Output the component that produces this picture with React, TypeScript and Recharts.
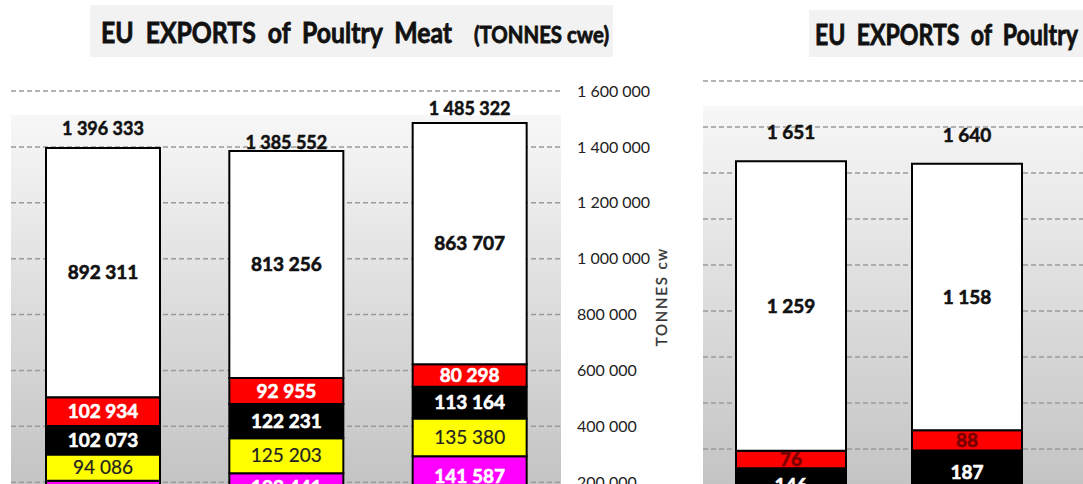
import { BarChart, Bar, XAxis, YAxis, CartesianGrid, LabelList, Label } from "recharts"

// left chart: EU exports of poultry meat, tonnes cwe
const categories = ["I", "II", "III"]
const whiteVals = [892311, 813256, 863707]
const redVals = [102934, 92955, 80298]
const blackVals = [102073, 122231, 113164]
const yellowVals = [94086, 125203, 135380]
const magentaVals = [101000, 103441, 141587]
const restVals = [103929, 128466, 151186] // below the crop
const totals = [1396333, 1385552, 1485322]
const yTicks = [0, 200000, 400000, 600000, 800000, 1000000, 1200000, 1400000, 1600000]

// right chart (cropped)
const categories2 = ["I", "II", "III"]
const white2 = [1259, 1158]
const red2 = [76, 88]
const black2 = [146, 187]
const rest2 = [170, 207]
const totals2 = [1651, 1640]
const yTicks2 = [0, 200, 400, 600, 800, 1000, 1200, 1400, 1600, 1800, 2000]

const FONT = "Lato, 'Open Sans', sans-serif"

const data = categories.map((c, i) => ({
  name: c,
  white: whiteVals[i],
  red: redVals[i],
  black: blackVals[i],
  yellow: yellowVals[i],
  magenta: magentaVals[i],
  rest: restVals[i],
  total: totals[i],
}))

const data2 = categories2.map((c, i) => ({
  name: c,
  white: white2[i],
  red: red2[i],
  black: black2[i],
  rest: rest2[i],
  total: totals2[i],
}))

const fmt = (v: any) => (v == null ? "" : String(v).replace(/\B(?=(\d{3})+(?!\d))/g, " "))

// distance from bar top to label baseline
const lift1 = [13, 2, 8]
const lift2 = [22, 22, 22]

const totalLabel = (lift: number[], size: number) => (p: any) => {
  if (p.value == null) return null
  const vb = p.viewBox || p
  return (
    <text
      x={vb.x + vb.width / 2}
      y={vb.y - lift[p.index ?? 0]}
      textAnchor="middle"
      fontFamily={FONT}
      fontWeight="bold"
      fontSize={size}
      fill="#111"
      stroke="#111"
      strokeWidth={0.5}
    >
      {fmt(p.value)}
    </text>
  )
}

const seg = (color: string, weight: string = "bold") => ({
  position: "center" as const,
  fill: color,
  stroke: color,
  strokeWidth: weight === "bold" ? 0.6 : 0.2,
  fontSize: 19,
  fontWeight: weight,
  fontFamily: FONT,
  formatter: fmt,
})

const axisTitle = (p: any) => {
  const vb = p.viewBox
  const cx = vb.x + 102
  const cy = vb.y + vb.height * 0.46
  return (
    <text
      transform={`translate(${cx}, ${cy}) rotate(-90)`}
      textAnchor="middle"
      dominantBaseline="middle"
      fontFamily={FONT}
      fontSize={15}
      fill="#333"
      stroke="#333"
      strokeWidth={0.3}
      letterSpacing={1.8}
    >
      TONNES cw
    </text>
  )
}

const bgStops = (
  <>
    <stop offset="0" stopColor="#ffffff" />
    <stop offset="0.053" stopColor="#ffffff" />
    <stop offset="0.054" stopColor="#f7f7f7" />
    <stop offset="1" stopColor="#bcbcbc" />
  </>
)

const titleText = { fontFamily: FONT, fontWeight: "bold", fill: "#111", stroke: "#111", strokeWidth: 0.8, lengthAdjust: "spacingAndGlyphs", style: { whiteSpace: "pre" as const } }

export default function App() {
  return (
    <div
      style={{
        position: "fixed",
        left: 0,
        top: 0,
        width: 1083,
        height: 484,
        overflow: "hidden",
        background: "#fff",
      }}
    >
      <svg width={1083} height={60} style={{ position: "absolute", left: 0, top: 0 }}>
        <rect x={90} y={5} width={523} height={52} fill="#f2f2f2" />
        <text x={101} y={43} fontSize={29} textLength={351} {...titleText}>
          {"EU  EXPORTS  of  Poultry  Meat"}
        </text>
        <text x={474} y={43} fontSize={23} textLength={135} {...titleText}>
          (TONNES cwe)
        </text>
        <rect x={809} y={10} width={280} height={47} fill="#f2f2f2" />
        <text x={815} y={45} fontSize={28} textLength={263} {...titleText}>
          {"EU  EXPORTS  of  Poultry"}
        </text>
      </svg>

      <div style={{ position: "absolute", left: 0, top: 0 }}>
        <BarChart width={700} height={620} data={data} margin={{ top: 91, left: 11, right: 29, bottom: 82 }}>
          <defs>
            <linearGradient id="bgL" x1="0" y1="0" x2="0" y2="1">
              {bgStops}
            </linearGradient>
          </defs>
          <CartesianGrid vertical={false} fill="url(#bgL)" stroke="#9a9a9a" strokeWidth={1.5} strokeDasharray="5 3" />
          <XAxis dataKey="name" hide />
          <YAxis
            orientation="right"
            width={110}
            domain={[0, 1600000]}
            ticks={yTicks}
            axisLine={false}
            tickLine={false}
            tickMargin={10}
            tickFormatter={fmt}
            tick={{ fill: "#222", fontSize: 16, fontFamily: FONT, textAnchor: "start" }}
          >
            <Label content={axisTitle} />
          </YAxis>
          <Bar dataKey="rest" stackId="a" fill="#00b050" stroke="#000" strokeWidth={2} barSize={114} isAnimationActive={false} />
          <Bar dataKey="magenta" stackId="a" fill="#ff00ff" stroke="#000" strokeWidth={2} barSize={114} isAnimationActive={false}>
            <LabelList dataKey="magenta" {...seg("#ffffff")} />
          </Bar>
          <Bar dataKey="yellow" stackId="a" fill="#ffff00" stroke="#000" strokeWidth={2} barSize={114} isAnimationActive={false}>
            <LabelList dataKey="yellow" {...seg("#222222", "normal")} />
          </Bar>
          <Bar dataKey="black" stackId="a" fill="#000000" stroke="#000" strokeWidth={2} barSize={114} isAnimationActive={false}>
            <LabelList dataKey="black" {...seg("#ffffff")} />
          </Bar>
          <Bar dataKey="red" stackId="a" fill="#ff0000" stroke="#000" strokeWidth={2} barSize={114} isAnimationActive={false}>
            <LabelList dataKey="red" {...seg("#ffffff")} />
          </Bar>
          <Bar dataKey="white" stackId="a" fill="#ffffff" stroke="#000" strokeWidth={2} barSize={114} isAnimationActive={false}>
            <LabelList dataKey="white" {...seg("#111111")} />
            <LabelList dataKey="total" position="top" content={totalLabel(lift1, 18)} />
          </Bar>
        </BarChart>
      </div>

      <div style={{ position: "absolute", left: 690, top: 0 }}>
        <BarChart width={600} height={620} data={data2} margin={{ top: 81, left: 13, right: 59, bottom: 79 }}>
          <defs>
            <linearGradient id="bgR" x1="0" y1="0" x2="0" y2="1">
              {bgStops}
            </linearGradient>
          </defs>
          <CartesianGrid vertical={false} fill="url(#bgR)" stroke="#9a9a9a" strokeWidth={1.5} strokeDasharray="5 3" />
          <XAxis dataKey="name" hide />
          <YAxis hide domain={[0, 2000]} ticks={yTicks2} />
          <Bar dataKey="rest" stackId="b" fill="#ffff00" stroke="#000" strokeWidth={2} barSize={110} isAnimationActive={false} />
          <Bar dataKey="black" stackId="b" fill="#000000" stroke="#000" strokeWidth={2} barSize={110} isAnimationActive={false}>
            <LabelList dataKey="black" {...seg("#ffffff")} />
          </Bar>
          <Bar dataKey="red" stackId="b" fill="#ff0000" stroke="#000" strokeWidth={2} barSize={110} isAnimationActive={false}>
            <LabelList dataKey="red" {...seg("#7a0000")} />
          </Bar>
          <Bar dataKey="white" stackId="b" fill="#ffffff" stroke="#000" strokeWidth={2} barSize={110} isAnimationActive={false}>
            <LabelList dataKey="white" {...seg("#111111")} />
            <LabelList dataKey="total" position="top" content={totalLabel(lift2, 19)} />
          </Bar>
        </BarChart>
      </div>
    </div>
  )
}
